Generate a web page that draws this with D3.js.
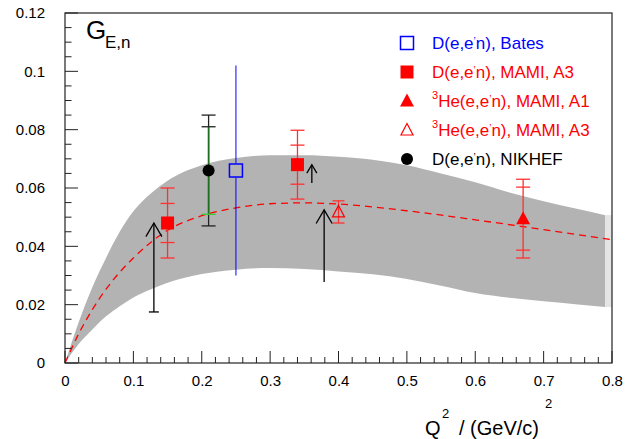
<!DOCTYPE html>
<html>
<head>
<meta charset="utf-8">
<script src="https://cdn.jsdelivr.net/npm/d3@7"></script>
<style>
  html, body { margin: 0; padding: 0; background: #fff; }
  svg { display: block; }
  text { font-family: "Liberation Sans", Arial, Helvetica, sans-serif; }
</style>
</head>
<body>
<svg id="chart" width="644" height="439"></svg>
<script>
// ---- data -------------------------------------------------------------
// Error band (upper / lower edge) in Q^2
const bandQ2   = [0, 0.02, 0.04, 0.06, 0.08, 0.10, 0.125, 0.15, 0.20, 0.25, 0.30, 0.35, 0.40, 0.45, 0.50, 0.55, 0.60, 0.65, 0.70, 0.75, 0.79];
const bandHigh = [0, 0.014, 0.026, 0.036, 0.045, 0.052, 0.058, 0.0625, 0.0678, 0.0703, 0.0712, 0.0712, 0.0707, 0.0697, 0.0678, 0.0650, 0.0620, 0.0585, 0.0555, 0.0528, 0.0507];
const bandLow  = [0, 0.0065, 0.0115, 0.016, 0.0195, 0.0225, 0.0252, 0.0275, 0.0305, 0.0320, 0.0326, 0.0322, 0.0314, 0.0304, 0.0288, 0.0265, 0.0240, 0.0224, 0.0212, 0.0201, 0.0192];

// Galster-type fit (dashed)
const fitQ2 = [0, 0.02, 0.04, 0.06, 0.08, 0.10, 0.15, 0.20, 0.25, 0.30, 0.35, 0.40, 0.50, 0.60, 0.70, 0.80];
const fitG  = [0, 0.0100, 0.0183, 0.0253, 0.0311, 0.0360, 0.0455, 0.0505, 0.0532, 0.0546, 0.0549, 0.0545, 0.0522, 0.0491, 0.0457, 0.0423];

// Measurements: Q^2, G_En, inner (stat) error, total error
const batesQ2 = [0.25],  batesG = [0.066],  batesErr = [0.036];
const mamiDQ2 = [0.15, 0.34], mamiDG = [0.048, 0.068], mamiDStat = [0.0067, 0.0067], mamiDTot = [0.012, 0.0118];
const heA1Q2 = [0.67], heA1G = [0.0495], heA1Stat = [0.0108], heA1Tot = [0.0135];
const heA3Q2 = [0.40], heA3G = [0.0518], heA3Err = [0.0038];
const nikQ2 = [0.21], nikG = [0.066], nikStat = [0.015], nikTot = [0.019];

// Upward arrows (limits): Q^2, tail value, tip value
const arrowQ2   = [0.130, 0.361, 0.379];
const arrowFrom = [0.0175, 0.0617, 0.0278];
const arrowTo   = [0.048, 0.068, 0.0525];
const arrowHead = [8, 5, 8];

// Axis ticks
const xTicks = [0, 0.1, 0.2, 0.3, 0.4, 0.5, 0.6, 0.7, 0.8];
const xTickLabels = ["0", "0.1", "0.2", "0.3", "0.4", "0.5", "0.6", "0.7", "0.8"];
const yTicks = [0, 0.02, 0.04, 0.06, 0.08, 0.1, 0.12];
const yTickLabels = ["0", "0.02", "0.04", "0.06", "0.08", "0.1", "0.12"];

// Legend
const legendLabels = [
  {pre: "", main: "D(e,e", post: "n), Bates", color: "#0000ff", marker: "openSquare"},
  {pre: "", main: "D(e,e", post: "n), MAMI, A3", color: "#ff0000", marker: "square"},
  {pre: "3", main: "He(e,e", post: "n), MAMI, A1", color: "#ff0000", marker: "triangle"},
  {pre: "3", main: "He(e,e", post: "n), MAMI, A3", color: "#ff0000", marker: "openTriangle"},
  {pre: "", main: "D(e,e", post: "n), NIKHEF", color: "#000000", marker: "circle"}
];

// ---- drawing ----------------------------------------------------------
const svg = d3.select("#chart");
const x = d3.scaleLinear().domain([0, 0.8]).range([65, 612]);
const y = d3.scaleLinear().domain([0, 0.12]).range([363, 13]);

// band
const band = bandQ2.map((q, i) => ({q, lo: bandLow[i], hi: bandHigh[i]}));
svg.append("path")
  .datum(band)
  .attr("fill", "#b3b3b3")
  .attr("d", d3.area().x(d => x(d.q)).y0(d => y(d.lo)).y1(d => y(d.hi)).curve(d3.curveMonotoneX));
// faint edge strip up to the axis end
const last = band[band.length - 1];
svg.append("path")
  .datum([last, {q: 0.8, lo: last.lo, hi: last.hi}])
  .attr("fill", "#e4e4e4")
  .attr("d", d3.area().x(d => x(d.q)).y0(d => y(d.lo)).y1(d => y(d.hi)));

// dashed fit
svg.append("path")
  .datum(fitQ2.map((q, i) => ({q, g: fitG[i]})))
  .attr("fill", "none")
  .attr("stroke", "#ff0000")
  .attr("stroke-width", 1.3)
  .attr("stroke-dasharray", "7,5")
  .attr("d", d3.line().x(d => x(d.q)).y(d => y(d.g)).curve(d3.curveMonotoneX));

// axes frame
const frame = svg.append("g").attr("stroke", "#222").attr("stroke-width", 1.2);
frame.append("rect").attr("x", 65).attr("y", 13).attr("width", 547).attr("height", 350).attr("fill", "none");

// x ticks
const xAxis = d3.axisBottom(x).tickValues(xTicks).tickFormat((d, i) => xTickLabels[i]).tickSize(0).tickPadding(12);
const gx = svg.append("g").attr("transform", "translate(0,363)").call(xAxis);
gx.select(".domain").remove();
gx.selectAll("text").attr("font-size", 15).attr("fill", "#000").attr("font-family", "Liberation Sans, Arial, sans-serif");
const xMinor = d3.range(0, 0.8001, 0.02);
svg.append("g").selectAll("line").data(xMinor).join("line")
  .attr("x1", d => x(d)).attr("x2", d => x(d))
  .attr("y1", 363).attr("y2", d => Math.abs(Math.round(d * 10) - d * 10) < 1e-6 ? 351 : 357)
  .attr("stroke", "#222").attr("stroke-width", 1);

// y ticks
const yAxis = d3.axisLeft(y).tickValues(yTicks).tickFormat((d, i) => yTickLabels[i]).tickSize(0).tickPadding(20);
const gy = svg.append("g").attr("transform", "translate(65,0)").call(yAxis);
gy.select(".domain").remove();
gy.selectAll("text").attr("font-size", 15).attr("fill", "#000").attr("font-family", "Liberation Sans, Arial, sans-serif");
const yMinor = d3.range(0, 0.12001, 0.005);
svg.append("g").selectAll("line").data(yMinor).join("line")
  .attr("y1", d => y(d)).attr("y2", d => y(d))
  .attr("x1", 65).attr("x2", d => Math.abs(Math.round(d * 50) - d * 50) < 1e-6 ? 78 : 71.5)
  .attr("stroke", "#222").attr("stroke-width", 1);

// helpers
function vbar(g, q, lo, hi, color, width) {
  g.append("line").attr("x1", x(q)).attr("x2", x(q)).attr("y1", y(lo)).attr("y2", y(hi))
    .attr("stroke", color).attr("stroke-width", width);
}
function cap(g, q, v, color, half) {
  g.append("line").attr("x1", x(q) - half).attr("x2", x(q) + half).attr("y1", y(v)).attr("y2", y(v))
    .attr("stroke", color).attr("stroke-width", 1.3);
}
function marker(g, type, cx, cy, color) {
  if (type === "openSquare") {
    g.append("rect").attr("x", cx - 6.5).attr("y", cy - 6.5).attr("width", 13).attr("height", 13)
      .attr("fill", "none").attr("stroke", color).attr("stroke-width", 1.5);
  } else if (type === "square") {
    g.append("rect").attr("x", cx - 6.5).attr("y", cy - 6.5).attr("width", 13).attr("height", 13).attr("fill", color);
  } else if (type === "triangle") {
    g.append("path").attr("d", `M${cx},${cy - 7.5}L${cx + 7},${cy + 5.5}L${cx - 7},${cy + 5.5}Z`).attr("fill", color);
  } else if (type === "openTriangle") {
    g.append("path").attr("d", `M${cx},${cy - 6.5}L${cx + 6},${cy + 5}L${cx - 6},${cy + 5}Z`)
      .attr("fill", "none").attr("stroke", color).attr("stroke-width", 1.2);
  } else if (type === "circle") {
    g.append("circle").attr("cx", cx).attr("cy", cy).attr("r", 6).attr("fill", color);
  }
}

const pts = svg.append("g");

// Bates
batesQ2.forEach((q, i) => {
  vbar(pts, q, batesG[i] - batesErr[i], batesG[i] + batesErr[i], "#0000ff", 1);
  pts.append("rect").attr("x", x(q) - 7).attr("y", y(batesG[i]) - 7).attr("width", 14).attr("height", 14).attr("fill", "#b3b3b3");
  marker(pts, "openSquare", x(q), y(batesG[i]), "#0000ff");
});

// NIKHEF
nikQ2.forEach((q, i) => {
  const v = nikG[i];
  vbar(pts, q, v - nikTot[i], v + nikTot[i], "#222", 1.3);
  vbar(pts, q, v - nikStat[i], v + nikStat[i], "#1e6e1e", 1.6);
  cap(pts, q, v + nikTot[i], "#222", 7);
  cap(pts, q, v + nikStat[i], "#222", 7);
  cap(pts, q, v - nikTot[i], "#222", 7);
  cap(pts, q, v - nikStat[i], "#33cc33", 7);
  marker(pts, "circle", x(q), y(v), "#000");
});

// MAMI deuterium
mamiDQ2.forEach((q, i) => {
  const v = mamiDG[i];
  vbar(pts, q, v - mamiDTot[i], v + mamiDTot[i], "#ff3030", 1.3);
  [v + mamiDTot[i], v + mamiDStat[i], v - mamiDStat[i], v - mamiDTot[i]].forEach(c => cap(pts, q, c, "#ff3030", 7));
  marker(pts, "square", x(q), y(v), "#ff0000");
});

// 3He A1
heA1Q2.forEach((q, i) => {
  const v = heA1G[i];
  vbar(pts, q, v - heA1Tot[i], v + heA1Tot[i], "#ff3030", 1.3);
  [v + heA1Tot[i], v + heA1Stat[i], v - heA1Stat[i], v - heA1Tot[i]].forEach(c => cap(pts, q, c, "#ff3030", 7));
  marker(pts, "triangle", x(q), y(v), "#ff0000");
});

// 3He A3
heA3Q2.forEach((q, i) => {
  const v = heA3G[i];
  vbar(pts, q, v - heA3Err[i], v + heA3Err[i], "#ff3030", 1.2);
  [v + heA3Err[i], v - heA3Err[i]].forEach(c => cap(pts, q, c, "#ff3030", 6));
  marker(pts, "openTriangle", x(q), y(v), "#ff0000");
});

// arrows
arrowQ2.forEach((q, i) => {
  const ax = x(q), tip = y(arrowTo[i]), tail = y(arrowFrom[i]), h = arrowHead[i];
  pts.append("line").attr("x1", ax).attr("x2", ax).attr("y1", tail).attr("y2", tip)
    .attr("stroke", "#000").attr("stroke-width", 1.3);
  pts.append("path").attr("d", `M${ax - h},${tip + h * 1.7}L${ax},${tip}L${ax + h},${tip + h * 1.7}`)
    .attr("fill", "none").attr("stroke", "#000").attr("stroke-width", 1.3);
});
// short tail cap of the first arrow
pts.append("line").attr("x1", x(arrowQ2[0]) - 5).attr("x2", x(arrowQ2[0]) + 5)
  .attr("y1", y(arrowFrom[0])).attr("y2", y(arrowFrom[0])).attr("stroke", "#000").attr("stroke-width", 1.3);

// title
svg.append("text").attr("x", 86).attr("y", 38.5).attr("font-size", 26).attr("fill", "#000").text("G");
svg.append("text").attr("x", 105).attr("y", 48).attr("font-size", 17).attr("fill", "#000").text("E,n");

// legend
const leg = svg.append("g");
legendLabels.forEach((d, i) => {
  const cy = 43 + i * 29;
  marker(leg, d.marker, 407, cy, d.color);
  const t = leg.append("text").attr("x", 432).attr("y", cy + 6).attr("font-size", 17).attr("fill", d.color);
  if (d.pre) {
    t.append("tspan").attr("font-size", 11).attr("dy", -8).text(d.pre);
    t.append("tspan").attr("dy", 8).text(d.main);
  } else {
    t.append("tspan").text(d.main);
  }
  t.append("tspan").attr("font-size", 10).attr("dy", -4).text("\u2019");
  t.append("tspan").attr("dy", 4).text(d.post);
});

// x-axis title
const xt = svg.append("g").attr("fill", "#000");
xt.append("text").attr("x", 425).attr("y", 435).attr("font-size", 20).text("Q");
xt.append("text").attr("x", 442).attr("y", 418).attr("font-size", 13).text("2");
xt.append("text").attr("x", 459).attr("y", 435).attr("font-size", 20).text("/ (GeV/c)");
xt.append("text").attr("x", 545).attr("y", 408).attr("font-size", 13).text("2");
</script>
</body>
</html>
